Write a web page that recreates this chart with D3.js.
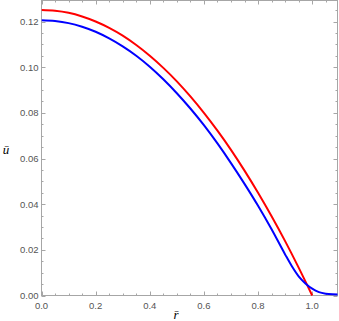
<!DOCTYPE html>
<html>
<head>
<meta charset="utf-8">
<script src="https://cdn.jsdelivr.net/npm/d3@7"></script>
<style>
  html, body { margin: 0; padding: 0; background: #fff; }
  svg { display: block; }
  .tick-label { font-family: 'Liberation Sans', Arial, sans-serif; font-size: 9.5px; fill: #555; }
  .axis-label { font-family: 'Liberation Serif', 'Times New Roman', serif; font-style: italic; font-size: 13px; fill: #000; }
</style>
</head>
<body>
<script>
// Radius samples and velocity values
const redR = [0, 0.05, 0.1, 0.15, 0.2, 0.25, 0.3, 0.35, 0.4, 0.45, 0.5,
  0.55, 0.6, 0.65, 0.7, 0.75, 0.8, 0.85, 0.9, 0.95, 1.0];
const redU = [0.125, 0.1247, 0.1238, 0.1222, 0.12, 0.1172, 0.1138, 0.1097, 0.105, 0.0997, 0.0938,
  0.0872, 0.08, 0.0722, 0.0638, 0.0547, 0.045, 0.0347, 0.0238, 0.0122, 0];

const blueR = [0, 0.05, 0.1, 0.15, 0.2, 0.25, 0.3, 0.35, 0.4, 0.45, 0.5,
  0.55, 0.6, 0.65, 0.7, 0.75, 0.8, 0.85, 0.9, 0.925, 0.95, 0.975, 1.0,
  1.025, 1.05, 1.075, 1.1];
const blueU = [0.1205, 0.1202, 0.1193, 0.1177, 0.1155, 0.1126, 0.1091, 0.105, 0.1002, 0.0947, 0.0886,
  0.0819, 0.0746, 0.0666, 0.058, 0.0489, 0.0393, 0.029, 0.018, 0.0128, 0.0084, 0.0053, 0.003,
  0.0015, 0.0008, 0.0005, 0.0004];

// Tick values
const xMajor = [0, 0.2, 0.4, 0.6, 0.8, 1.0];
const yMajor = [0, 0.02, 0.04, 0.06, 0.08, 0.10, 0.12];

const width = 339;
const height = 321;
const plotLeft = 41.5, plotRight = 337.5, plotTop = 0.5, plotBottom = 295.5;

const xScale = d3.scaleLinear().domain([0, 1.0935]).range([plotLeft, plotRight]);
const yScale = d3.scaleLinear().domain([0, 0.1292]).range([plotBottom, plotTop]);

const svg = d3.select('body')
  .append('svg')
  .attr('width', width)
  .attr('height', height);

// Frame
svg.append('rect')
  .attr('x', plotLeft)
  .attr('y', plotTop)
  .attr('width', plotRight - plotLeft)
  .attr('height', plotBottom - plotTop)
  .attr('fill', 'none')
  .attr('stroke', '#a6a6a6')
  .attr('stroke-width', 1);

// Minor ticks every 0.05 (x) and 0.005 (y)
const xMinor = d3.range(0, 1.09, 0.05).filter(v => !xMajor.some(m => Math.abs(m - v) < 1e-6));
const yMinor = d3.range(0, 0.129, 0.005).filter(v => !yMajor.some(m => Math.abs(m - v) < 1e-6));

const ticks = svg.append('g').attr('stroke', '#a6a6a6').attr('stroke-width', 1);

const drawX = (vals, len) => {
  vals.forEach(v => {
    const x = Math.round(xScale(v)) + 0.5;
    ticks.append('line').attr('x1', x).attr('x2', x).attr('y1', plotBottom).attr('y2', plotBottom - len);
    ticks.append('line').attr('x1', x).attr('x2', x).attr('y1', plotTop).attr('y2', plotTop + len);
  });
};
const drawY = (vals, len) => {
  vals.forEach(v => {
    const y = Math.round(yScale(v)) + 0.5;
    ticks.append('line').attr('y1', y).attr('y2', y).attr('x1', plotLeft).attr('x2', plotLeft + len);
    ticks.append('line').attr('y1', y).attr('y2', y).attr('x1', plotRight).attr('x2', plotRight - len);
  });
};
drawX(xMajor, 4);
drawX(xMinor, 2);
drawY(yMajor, 4);
drawY(yMinor, 2);

// Tick labels
svg.append('g').selectAll('text')
  .data(xMajor)
  .enter()
  .append('text')
  .attr('class', 'tick-label')
  .attr('x', d => xScale(d))
  .attr('y', plotBottom + 13)
  .attr('text-anchor', 'middle')
  .text(d3.format('.1f'));

svg.append('g').selectAll('text')
  .data(yMajor)
  .enter()
  .append('text')
  .attr('class', 'tick-label')
  .attr('x', plotLeft - 3)
  .attr('y', d => yScale(d) + 3.5)
  .attr('text-anchor', 'end')
  .text(d3.format('.2f'));

// Curves
svg.append('clipPath')
  .attr('id', 'plot-clip')
  .append('rect')
  .attr('x', plotLeft)
  .attr('y', plotTop - 2)
  .attr('width', plotRight - plotLeft)
  .attr('height', plotBottom - plotTop + 4);

const line = d3.line()
  .x(d => xScale(d[0]))
  .y(d => yScale(d[1]))
  .curve(d3.curveMonotoneX);

const plot = svg.append('g').attr('clip-path', 'url(#plot-clip)');

plot.append('path')
  .datum(redR.map((r, i) => [r, redU[i]]))
  .attr('d', line)
  .attr('fill', 'none')
  .attr('stroke', '#ff0000')
  .attr('stroke-width', 2);

plot.append('path')
  .datum(blueR.map((r, i) => [r, blueU[i]]))
  .attr('d', line)
  .attr('fill', 'none')
  .attr('stroke', '#0000ff')
  .attr('stroke-width', 2);

// Axis labels
svg.append('text')
  .attr('class', 'axis-label')
  .attr('x', 6)
  .attr('y', 154)
  .attr('text-anchor', 'middle')
  .text('u\u0304');

svg.append('text')
  .attr('class', 'axis-label')
  .attr('x', 176)
  .attr('y', 319)
  .attr('text-anchor', 'middle')
  .text('r\u0304');
</script>
</body>
</html>
